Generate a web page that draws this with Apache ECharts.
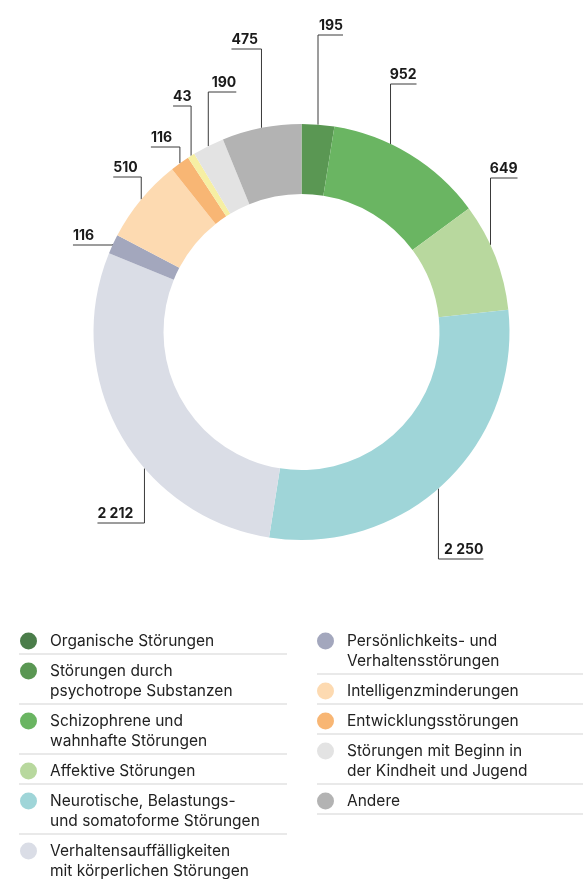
<!DOCTYPE html>
<html>
<head>
<meta charset="utf-8">
<script src="https://cdn.jsdelivr.net/npm/echarts@6/dist/echarts.min.js"></script>
<style>
    html, body { margin: 0; padding: 0; background: #fff; }
    #main { width: 583px; height: 879px; }
</style>
</head>
<body>
<div id="main"></div>
<script>
// Kategorien im Uhrzeigersinn ab 12 Uhr
var categories = [
    'Organische Störungen',
    'Störungen durch\npsychotrope Substanzen',
    'Schizophrene und\nwahnhafte Störungen',
    'Affektive Störungen',
    'Neurotische, Belastungs-\nund somatoforme Störungen',
    'Verhaltensauffälligkeiten\nmit körperlichen Störungen',
    'Persönlichkeits- und\nVerhaltensstörungen',
    'Intelligenzminderungen',
    'Entwicklungsstörungen',
    'Nicht zugeordnet',
    'Störungen mit Beginn in\nder Kindheit und Jugend',
    'Andere'
];
var values = [0, 195, 952, 649, 2250, 2212, 116, 510, 116, 43, 190, 475];
var colors = ['#4b7d4a', '#5a9753', '#6ab562', '#b8d89e', '#9fd5d8', '#dadde6',
              '#a3a7bd', '#fddab1', '#f8b674', '#f6efa3', '#e3e3e3', '#b3b3b3'];

// Legende: zwei Spalten (Index in categories)
var legendLeftIdx = [0, 1, 2, 3, 4, 5];
var legendRightIdx = [6, 7, 8, 10, 11];

// Beschriftungslinien: Höhe der Waagrechten, Richtung, Länge, Winkelkorrektur (Grad)
var labelLineY = [0, 35, 84, 178, 559, 523, 245, 177, 147, 106, 92, 49];
var labelDir   = [0, 1, 1, 1, 1, -1, -1, -1, -1, -1, 1, -1];
var labelLen   = [0, 25, 26, 27, 45, 47, 40, 28, 29, 18, 28, 30];
var labelNudge = [0, 0, -6, -3.4, 2.4, -11.6, 0, 0, 0, 0, 0, 0];

var cx = 301.5, cy = 332;
var font = 'Inter, "Noto Sans", sans-serif';

function fmt(v) {
    return String(v).replace(/\B(?=(\d{3})+(?!\d))/g, ' ');
}

function layoutLabel(params) {
    var i = params.dataIndex;
    var p = params.labelLinePoints;
    if (!p || values[i] === 0) return {};
    var dx = p[0][0] - cx, dy = p[0][1] - cy;
    var r = Math.sqrt(dx * dx + dy * dy);
    var a = Math.atan2(dx, -dy) + labelNudge[i] * Math.PI / 180;
    var x0 = cx + r * Math.sin(a), y0 = cy - r * Math.cos(a);
    var y1 = labelLineY[i];
    var x2 = x0 + labelDir[i] * labelLen[i];
    return {
        x: x2,
        y: y1 - 2,
        align: labelDir[i] > 0 ? 'right' : 'left',
        verticalAlign: 'bottom',
        labelLinePoints: [[x0, y0], [x0, y1], [x2, y1]]
    };
}

var pieData = categories.map(function (name, i) {
    var item = { name: name, value: values[i], itemStyle: { color: colors[i] } };
    if (values[i] === 0) {
        item.label = { show: false };
        item.labelLine = { show: false };
    }
    return item;
});

// Legende: ein Eintrag je Komponente, Zeilenabstand 20, Abstand 10
var legendTop = 640, lineStep = 20, itemGap = 10;
var legends = [];
var graphics = [];

function buildColumn(idx, left, x1, x2) {
    var y = legendTop;
    idx.forEach(function (i) {
        var lines = categories[i].split('\n').length;
        legends.push({
            orient: 'vertical',
            left: left,
            top: y - 9,
            padding: 0,
            itemWidth: 33,
            itemHeight: 17,
            icon: 'circle',
            selectedMode: false,
            itemStyle: { borderWidth: 0 },
            textStyle: {
                fontFamily: font,
                fontSize: 15.5,
                color: '#222',
                lineHeight: lineStep,
                height: lineStep,
                rich: { t: { fontFamily: font, fontSize: 15.5, color: '#222', lineHeight: lineStep } }
            },
            data: [{ name: categories[i] }]
        });
        var sepY = y + (lines - 1) * lineStep + 14;
        graphics.push({ type: 'line', shape: { x1: x1, y1: sepY, x2: x2, y2: sepY },
            style: { stroke: '#e2e2e2', lineWidth: 1.5 }, silent: true });
        y += lines * lineStep + itemGap;
    });
}
buildColumn(legendLeftIdx, 20, 19, 287);
buildColumn(legendRightIdx, 317, 317, 583);

var myChart = echarts.init(document.getElementById('main'));
var option = {
    animation: false,
    backgroundColor: '#fff',
    legend: legends,
    graphic: graphics,
    series: [{
        type: 'pie',
        center: [cx, cy],
        radius: [138, 208],
        startAngle: 90,
        clockwise: true,
        avoidLabelOverlap: false,
        emphasis: { disabled: true },
        itemStyle: { borderWidth: 0 },
        label: {
            show: true,
            position: 'outside',
            formatter: function (p) { return fmt(p.value); },
            fontFamily: font,
            fontSize: 14,
            fontWeight: 'bold',
            color: '#1a1a1a'
        },
        labelLine: {
            show: true,
            length: 10,
            length2: 10,
            smooth: false,
            lineStyle: { color: '#3a3a3a', width: 1 }
        },
        labelLayout: layoutLabel,
        data: pieData
    }]
};
myChart.setOption(option);
</script>
</body>
</html>
